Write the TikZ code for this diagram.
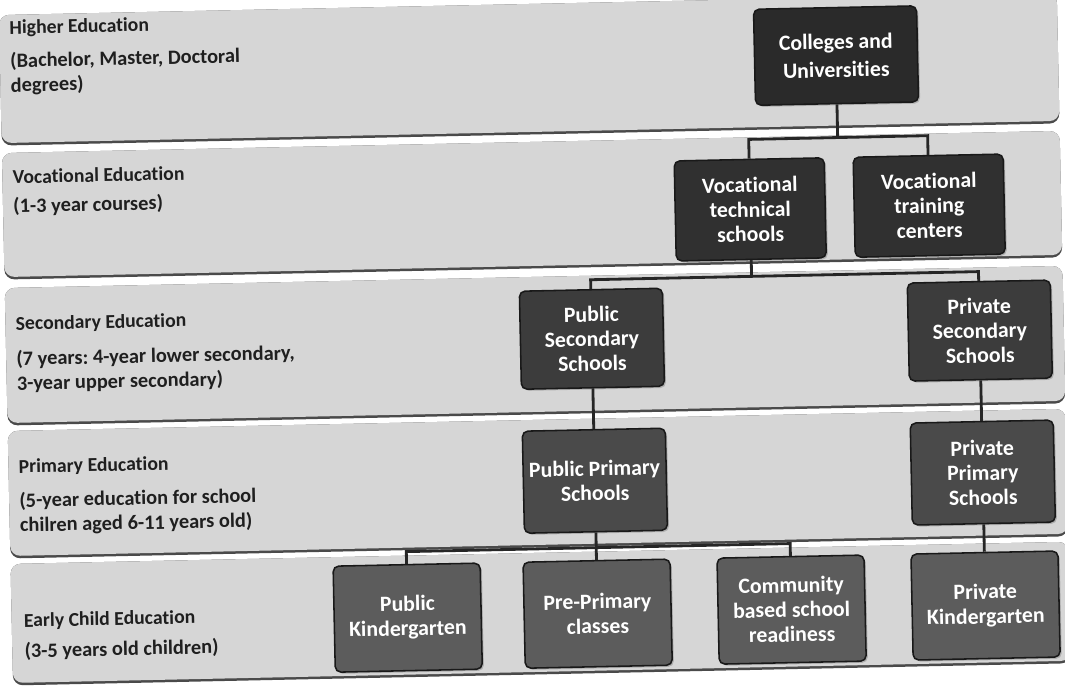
\documentclass[tikz,border=0pt]{standalone}
\usepackage{fontspec}
\setmainfont{Carlito}[Ligatures=NoCommon]
\frenchspacing
\usetikzlibrary{shadows}
\definecolor{bandgray}{HTML}{D6D6D6}
\definecolor{bandedge}{HTML}{4A4A4A}
\definecolor{lvlA}{HTML}{2A2A2A}
\definecolor{lvlB}{HTML}{303030}
\definecolor{lvlC}{HTML}{3C3C3C}
\definecolor{lvlD}{HTML}{4A4A4A}
\definecolor{lvlE}{HTML}{5C5C5C}
\definecolor{linecol}{HTML}{262626}
\begin{document}
\begin{tikzpicture}[x=0.025cm,y=-0.025cm,
  orgbox/.style={rectangle, rounded corners=4pt, draw=black!90, line width=1.1pt,
    text=white, align=center, inner sep=2pt,
    font=\fontsize{15.5}{17.5}\selectfont\bfseries,
    drop shadow={opacity=0.45, shadow xshift=1.2pt, shadow yshift=-1.2pt}},
  boxtop/.style={orgbox, fill=lvlA, minimum width=4.075cm, minimum height=2.4cm,
    font=\fontsize{15.5}{20}\selectfont\bfseries},
  boxvoc/.style={orgbox, fill=lvlB, minimum width=3.75cm, minimum height=2.5cm},
  boxsec/.style={orgbox, fill=lvlC, minimum width=3.575cm, minimum height=2.45cm},
  boxpri/.style={orgbox, fill=lvlD, minimum width=3.575cm, minimum height=2.55cm},
  boxear/.style={orgbox, fill=lvlE, minimum width=3.675cm, minimum height=2.65cm},
  lvltitle/.style={anchor=west, inner sep=0pt, text=black!88,
    font=\fontsize{14}{16}\selectfont\bfseries},
  lvlsub/.style={anchor=west, inner sep=0pt, text=black!88, align=left,
    font=\fontsize{14.5}{17.5}\selectfont\bfseries},
  conn/.style={draw=linecol, line width=2pt},
  bandfill/.style={fill=bandgray, rounded corners=7pt},
  bandshade/.style={fill=bandedge, rounded corners=7pt}]
\useasboundingbox (0,0) rectangle (1065,688);
\fill[white] (0,0) rectangle (1065,688);
\begin{scope}
\clip (0,0) rectangle (1065,688);
\begin{scope}[rotate around={1.2:(532,344)}, transform shape]
  % bands
  \fill[bandshade] (6,4) rectangle (1064,134.5);
  \fill[bandfill] (6,4) rectangle (1064,132);
  \fill[bandshade] (6,142) rectangle (1064,268.5);
  \fill[bandfill] (6,142) rectangle (1064,266);
  \fill[bandshade] (6,277) rectangle (1064,414.5);
  \fill[bandfill] (6,277) rectangle (1064,412);
  \fill[bandshade] (6,420) rectangle (1064,547.5);
  \fill[bandfill] (6,420) rectangle (1064,545);
  \fill[bandshade] (6,553) rectangle (1064,674.5);
  \fill[bandfill] (6,553) rectangle (1064,672);

  % level labels
  \node[lvltitle] (tHigh) at (16,18) {Higher Education};
  \node[lvlsub] (sHigh) at (16,63) {(Bachelor, Master, Doctoral\\degrees)};
  \node[lvltitle] (tVoc) at (16,166) {Vocational Education};
  \node[lvlsub] (sVoc) at (16,196) {(1-3 year courses)};
  \node[lvltitle] (tSec) at (16,314) {Secondary Education};
  \node[lvlsub] (sSec) at (16,361) {(7 years: 4-year lower secondary,\\3-year upper secondary)};
  \node[lvltitle] (tPri) at (16,457) {Primary Education};
  \node[lvlsub] (sPri) at (16,503) {(5-year education for school\\chilren aged 6-11 years old)};
  \node[lvltitle] (tEar) at (18,611) {Early Child Education};
  \node[lvlsub] (sEar) at (18,641) {(3-5 years old children)};

  % junction points
  \coordinate (j1) at (842,144);
  \coordinate (j2) at (753,281);
  \coordinate (j3) at (592,549);

  % boxes
  \node[boxtop] (col) at (842,62) {Colleges and\\Universities};
  \node[boxvoc] (vtech) at (753,214) {Vocational\\technical\\schools};
  \node[boxvoc] (vtrain) at (932,214) {Vocational\\training\\centers};
  \node[boxsec] (pubsec) at (592,340) {Public\\Secondary\\Schools};
  \node[boxsec] (prisec) at (980,340) {Private\\Secondary\\Schools};
  \node[boxpri] (pubpri) at (592,482) {Public Primary\\Schools};
  \node[boxpri] (pripri) at (980,482) {Private\\Primary\\Schools};
  \node[boxear] (pubkg) at (402,615) {Public\\Kindergarten};
  \node[boxear] (prepri) at (592,615) {Pre-Primary\\classes};
  \node[boxear] (comm) at (786,615) {Community\\based school\\readiness};
  \node[boxear] (prikg) at (980,615) {Private\\Kindergarten};

  % connectors
  \draw[conn] (col.south) -- (j1);
  \draw[conn] (vtech.north) |- (j1) -| (vtrain.north);
  \draw[conn] (vtech.south) -- (j2);
  \draw[conn] (pubsec.north) |- (j2) -| (prisec.north);
  \draw[conn] (pubsec.south) -- (pubpri.north);
  \draw[conn] (prisec.south) -- (pripri.north);
  \draw[conn] (pubpri.south) -- (prepri.north);
  \draw[conn] (pubkg.north) |- (j3) -| (comm.north);
  \draw[conn] (pripri.south) -- (prikg.north);
\end{scope}
\end{scope}
\end{tikzpicture}
\end{document}
